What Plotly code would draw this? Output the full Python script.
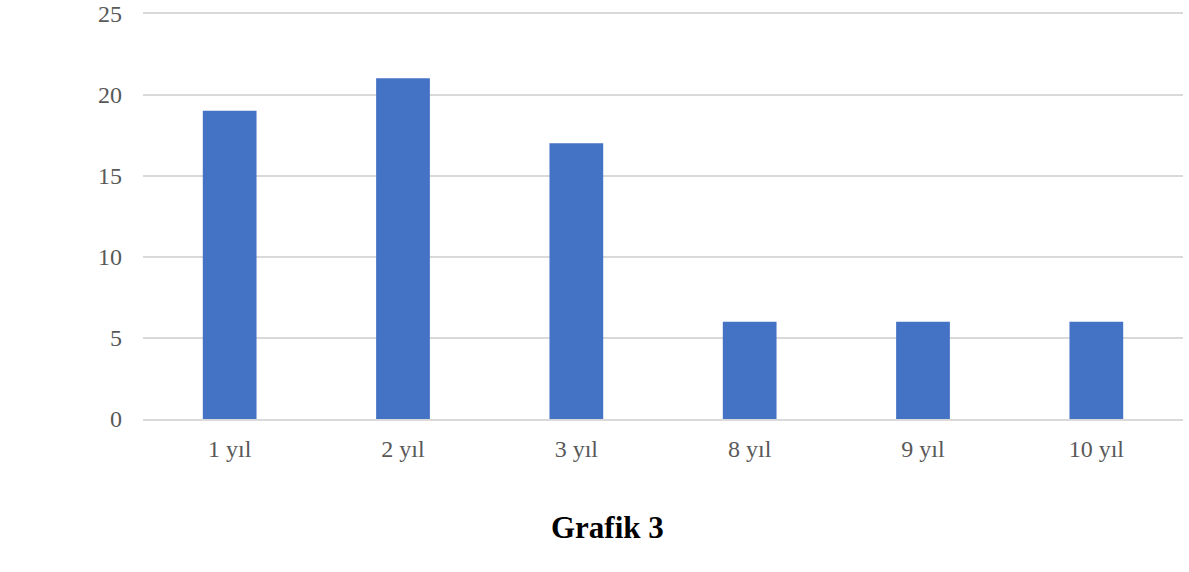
import plotly.graph_objects as go

# Data
categories = ["1 yıl", "2 yıl", "3 yıl", "8 yıl", "9 yıl", "10 yıl"]
values = [19, 21, 17, 6, 6, 6]
y_ticks = [0, 5, 10, 15, 20, 25]

SERIF = "Liberation Serif, Times New Roman, serif"

fig = go.Figure(go.Bar(x=categories, y=values, marker_color="#4472C4",
                       marker_line_width=0))

fig.update_layout(
    width=1189, height=572,
    margin=dict(l=143, r=6, t=11, b=153),
    paper_bgcolor="white", plot_bgcolor="white",
    bargap=0.69,
    showlegend=False,
    font=dict(family=SERIF, size=24, color="#595959"),
)
# range a hair above 25 so the top gridline is still drawn
fig.update_yaxes(range=[0, 25.15], tickvals=y_ticks, showgrid=True,
                 gridcolor="#D9D9D9", gridwidth=1.5, zeroline=False,
                 ticks="", ticklabelstandoff=20, showline=False,
                 automargin=False)
fig.update_xaxes(showgrid=False, showline=True, linecolor="#D9D9D9",
                 linewidth=1.5, ticks="", ticklabelstandoff=7,
                 automargin=False)

# Caption below the chart
fig.add_annotation(text="<b>Grafik 3</b>", xref="paper", yref="paper",
                   x=0.447, y=-0.265, xanchor="center", yanchor="middle",
                   showarrow=False,
                   font=dict(family=SERIF, size=31, color="black"))

# drop the default body margin so the figure sits at the window's corner
fig.write_html("out.html", config={"displayModeBar": False},
               post_script="document.body.style.margin='0px';")
